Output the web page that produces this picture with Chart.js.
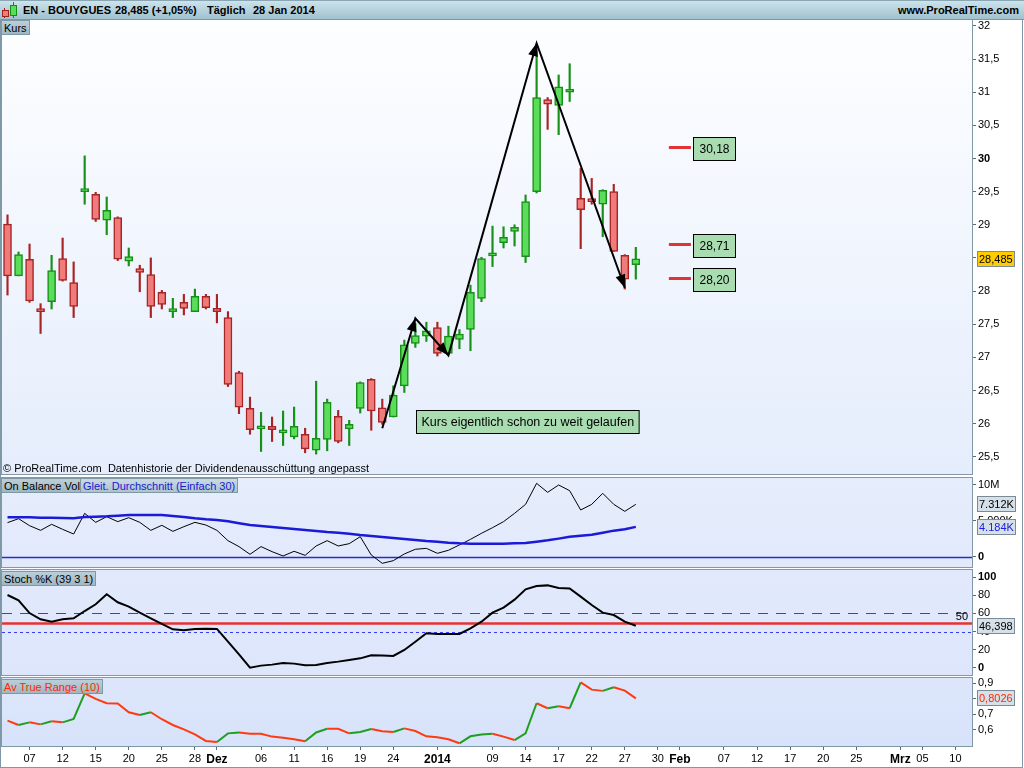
<!DOCTYPE html>
<html lang="de">
<head>
<meta charset="utf-8">
<title>EN - BOUYGUES</title>
<script src="https://cdn.jsdelivr.net/npm/chart.js@4.4.1/dist/chart.umd.min.js"></script>
<style>
  body { margin: 0; width: 1024px; height: 768px; position: relative; overflow: hidden; background: #fff;
         font-family: "Liberation Sans", Arial, sans-serif; font-size: 11px; color: #000; }
  .abs { position: absolute; }
  canvas { position: absolute; left: 0; }
  #header { left: 0; top: 0; width: 1024px; height: 20px; box-sizing: border-box; z-index: 5;
            background: linear-gradient(#cbe3ec, #a1c1cd); border-top: 1px solid #8aa6b2; border-bottom: 1px solid #7d97a4; }
  #header span { position: absolute; top: 3px; font-weight: bold; font-size: 11px; white-space: nowrap; }
  .tag { position: absolute; height: 15px; line-height: 14px; padding: 0 2px; box-sizing: border-box; z-index: 4;
         background: linear-gradient(#bccfd8, #9fb7c3); border: 1px solid #7f98a5; font-size: 11px; white-space: nowrap; }
  #frame { left: 0; top: 19px; width: 1023px; height: 749px; box-sizing: border-box; border: 1px solid #7f98a5;
           border-top: none; z-index: 6; pointer-events: none; }
</style>
</head>
<body>
<div id="header" class="abs">
  <div class="abs" style="left:4px;top:7px;width:1px;height:10px;background:#a02020"></div>
  <div class="abs" style="left:2px;top:9px;width:5px;height:5px;background:#f07b7b;border:1px solid #a02020"></div>
  <div class="abs" style="left:13px;top:1px;width:1px;height:16px;background:#139013"></div>
  <div class="abs" style="left:10px;top:4px;width:5px;height:9px;background:#5bdc5b;border:1px solid #139013"></div>
  <span style="left:23px">EN - BOUYGUES</span>
  <span style="left:115px">28,485 (+1,05%)</span>
  <span style="left:207px">Täglich</span>
  <span style="left:253px">28 Jan 2014</span>
  <span style="right:5px">www.ProRealTime.com</span>
</div>

<canvas id="price" width="1024" height="466" style="top:14px"></canvas>
<canvas id="obv" width="1024" height="101" style="top:472px"></canvas>
<canvas id="stoch" width="1024" height="117" style="top:564px"></canvas>
<canvas id="atr" width="1024" height="96" style="top:672px"></canvas>

<div class="tag" style="left:1px;top:20px">Kurs</div>
<div class="abs" style="left:3px;top:462px;font-size:11px;z-index:4">© ProRealTime.com&nbsp; Datenhistorie der Dividendenausschüttung angepasst</div>
<div class="tag" style="left:1px;top:478px">On Balance Vol</div>
<div class="tag" style="left:80px;top:478px;color:#1a1ad0;background:linear-gradient(#c9dae2,#adc3cd)">Gleit. Durchschnitt (Einfach 30)</div>
<div class="tag" style="left:1px;top:571px">Stoch %K (39 3 1)</div>
<div class="tag" style="left:1px;top:679px;color:#ff2a00">Av True Range (10)</div>
<div id="frame" class="abs"></div>

<script>
// Handelstage ab 5. Nov 2013 (Kategorien der x-Achse)
const firstDay = [2013, 10, 5];
const dayCount = 88;
const holidays = ["2013-12-25", "2013-12-26", "2014-01-01"];

const xTickText = {
  "2013-11-07": "07", "2013-11-12": "12", "2013-11-15": "15", "2013-11-20": "20", "2013-11-25": "25",
  "2013-11-28": "28", "2013-12-02": "Dez", "2013-12-06": "06", "2013-12-11": "11", "2013-12-16": "16",
  "2013-12-19": "19", "2013-12-24": "24", "2014-01-02": "2014", "2014-01-09": "09", "2014-01-14": "14",
  "2014-01-17": "17", "2014-01-22": "22", "2014-01-27": "27", "2014-01-30": "30", "2014-02-03": "Feb",
  "2014-02-07": "07", "2014-02-12": "12", "2014-02-17": "17", "2014-02-20": "20", "2014-02-25": "25",
  "2014-03-03": "Mrz", "2014-03-05": "05", "2014-03-10": "10"
};
const boldXTicks = ["Dez", "2014", "Feb", "Mrz"];

// Kurse (OHLC)
const opens = [29.01,28.23,28.48,27.73,27.84,28.49,28.13,29.50,29.46,29.07,29.11,28.45,28.34,28.25,27.98,27.69,27.83,27.69,27.92,27.74,
  27.60,26.77,26.23,25.92,25.96,25.86,25.80,25.84,25.60,25.76,26.11,25.92,26.23,26.67,26.24,26.10,26.57,27.21,27.32,27.45,
  27.06,27.27,27.42,27.89,28.53,28.73,28.90,28.52,29.50,30.89,30.80,31.00,29.40,29.37,29.31,29.50,28.54,28.40];
const highs = [29.15,28.59,28.71,27.81,28.54,28.80,28.44,30.04,29.49,29.42,29.12,28.65,28.39,28.50,28.01,27.89,27.95,28.03,27.95,27.95,
  27.69,26.79,26.40,26.17,26.10,26.19,26.25,25.93,26.64,26.37,26.20,26.05,26.63,26.68,26.37,26.57,27.26,27.51,27.53,27.53,
  27.47,27.42,28.09,28.51,28.98,28.97,29.00,29.45,31.70,30.92,31.26,31.43,29.85,29.70,29.53,29.61,28.55,28.66];
const lows = [27.94,28.23,27.83,27.36,27.73,28.15,27.60,29.31,29.05,28.85,28.46,28.38,27.99,27.60,27.73,27.60,27.64,27.69,27.73,27.52,
  26.56,26.15,25.84,25.58,25.73,25.67,25.77,25.56,25.54,25.59,25.71,25.67,26.16,25.90,25.99,26.10,26.47,27.15,27.24,27.02,
  27.05,27.13,27.10,27.84,28.37,28.65,28.68,28.43,29.48,30.44,30.36,30.86,28.64,29.31,28.82,28.60,28.03,28.18];
const closes = [28.23,28.55,27.85,27.69,28.31,28.16,27.77,29.52,29.08,29.22,28.48,28.52,28.28,27.77,27.80,27.72,27.74,27.92,27.75,27.69,
  26.59,26.25,25.91,25.96,25.91,25.88,25.96,25.62,25.78,26.32,25.73,25.99,26.62,26.19,26.02,26.43,27.19,27.33,27.40,27.06,
  27.32,27.35,27.98,28.49,28.55,28.81,28.96,29.35,30.92,30.82,31.08,31.02,29.23,29.35,29.52,28.60,28.18,28.485];

// On Balance Volume (Mio.) und gleitender Durchschnitt 30
const obv = [4.77,5.32,4.35,3.70,4.54,3.84,3.19,6.06,4.81,5.60,4.91,5.46,4.81,3.70,4.40,3.56,4.21,4.81,4.44,3.70,
  2.27,1.44,0.37,1.44,0.74,0.14,0.79,0.23,1.53,2.27,1.53,1.85,2.82,0.28,-0.88,-0.51,0.42,1.07,1.20,0.51,
  0.93,1.67,2.45,3.29,4.07,4.91,6.06,7.31,10.23,8.98,10.0,9.21,6.53,7.31,8.84,7.31,6.34,7.31];
const obvMa = [5.51,5.51,5.51,5.46,5.46,5.42,5.37,5.56,5.60,5.65,5.74,5.83,5.83,5.83,5.83,5.69,5.56,5.37,5.23,5.14,
  4.95,4.68,4.44,4.31,4.17,4.03,3.89,3.75,3.61,3.47,3.38,3.24,3.06,2.92,2.78,2.64,2.50,2.36,2.22,2.13,
  1.99,1.90,1.85,1.85,1.85,1.85,1.90,1.94,2.13,2.31,2.55,2.82,2.96,3.10,3.38,3.66,3.84,4.18];

// Stochastik %K (39 3 1)
const stochK = [80.2,74.4,60.4,53.5,50.9,53.5,54.6,62.6,70.0,81.0,72.2,67.4,60.8,54.6,48.4,42.5,41.4,42.9,43.2,42.9,
  28.9,15.0,0.4,2.6,3.7,5.5,4.8,2.9,3.3,5.5,7.0,8.8,10.6,13.9,13.6,13.2,19.8,28.9,38.1,37.4,
  37.4,37.4,43.6,50.9,60.8,66.3,75.1,86.5,90.1,90.8,87.9,87.5,78.4,69.2,60.8,58.2,50.9,46.4];

// Average True Range (10)
const atr = [0.659,0.631,0.648,0.635,0.655,0.648,0.670,0.835,0.799,0.771,0.770,0.713,0.695,0.713,0.668,0.631,0.603,0.571,0.528,0.521,
  0.577,0.583,0.575,0.574,0.556,0.549,0.539,0.526,0.583,0.607,0.606,0.577,0.586,0.605,0.590,0.586,0.609,0.592,0.558,0.552,
  0.539,0.513,0.558,0.569,0.575,0.556,0.534,0.577,0.771,0.739,0.752,0.739,0.906,0.859,0.851,0.874,0.853,0.803];

// Achsen
const priceTicks = [25.5, 26, 26.5, 27, 27.5, 28, 28.5, 29, 29.5, 30, 30.5, 31, 31.5, 32];
const obvTicks = [0, 5, 10];
const obvTickText = { 0: "0", 5: "5.000K", 10: "10M" };
const stochTicks = [0, 10, 20, 30, 40, 50, 60, 70, 80, 90, 100];
const atrTicks = [0.6, 0.7, 0.8, 0.9];

// Zeichnungen im Kurschart
const levelValues = [30.18, 28.71, 28.20];
const arrowIdx = [34, 37, 40, 48, 56];
const arrowPrices = [25.93, 27.59, 27.03, 31.74, 28.05];
const noteText = "Kurs eigentlich schon zu weit gelaufen";
const noteIdx = 37;
const notePrice = 26.2;

const days = [];
const d = new Date(Date.UTC(firstDay[0], firstDay[1], firstDay[2]));
while (days.length < dayCount) {
  const iso = d.toISOString().slice(0, 10);
  const wd = d.getUTCDay();
  if (wd !== 0 && wd !== 6 && !holidays.includes(iso)) days.push(iso);
  d.setUTCDate(d.getUTCDate() + 1);
}

const FONT = '"Liberation Sans", Arial, sans-serif';
Chart.defaults.font.family = FONT;
Chart.defaults.font.size = 11;
Chart.defaults.color = "#000";
Chart.defaults.animation = false;
Chart.defaults.plugins.legend.display = false;
Chart.defaults.plugins.tooltip.enabled = false;

function comma(v) { return String(v).replace(".", ","); }

const up = closes.map((c, i) => c >= opens[i]);
const arrowData = days.map(() => null);
arrowIdx.forEach((k, j) => { arrowData[k] = arrowPrices[j]; });

// Hintergrund, Linien, Kästchen
const decoSpecs = {
  price: { bgTop: "#fdfeff", bgBottom: "#e5edfc",
           tags: [{ value: closes[closes.length - 1], text: "28,485", bg: "#ffcc00", color: "#000" }],
           levels: levelValues, levelFrom: 60, levelTo: 62, arrows: true },
  obv: { bgTop: "#e6edfc", bgBottom: "#e1e9fb",
         lines: [{ value: 0, color: "#2a2ad0", width: 1.5, dash: [] }],
         tags: [{ value: obv[obv.length - 1], text: "7.312K", bg: "#d6e0e8", color: "#000" },
                { value: obvMa[obvMa.length - 1], text: "4.184K", bg: "#d6e0e8", color: "#2020e0" }] },
  stoch: { bgTop: "#e2e9fc", bgBottom: "#dde6fb",
           lines: [{ value: 60, color: "#3a3af2", width: 1, dash: [10, 8] },
                   { value: 40, color: "#3a3af2", width: 1, dash: [3, 3] },
                   { value: 50, color: "#e83232", width: 2.5, dash: [], label: "50" }],
           tags: [{ value: stochK[stochK.length - 1], text: "46,398", bg: "#d6e0e8", color: "#000" }] },
  atr: { bgTop: "#dde6fb", bgBottom: "#d7e3fa",
         tags: [{ value: atr[atr.length - 1], text: "0,8026", bg: "#d6e0e8", color: "#ff2a00" }] }
};

const deco = {
  id: "deco",
  beforeDraw(chart) {
    const s = decoSpecs[chart.canvas.id];
    if (!s) return;
    const a = chart.chartArea, ctx = chart.ctx;
    const g = ctx.createLinearGradient(0, a.top, 0, a.bottom);
    g.addColorStop(0, s.bgTop);
    g.addColorStop(1, s.bgBottom);
    ctx.save();
    ctx.fillStyle = g;
    ctx.fillRect(a.left, a.top, a.right - a.left, a.bottom - a.top);
    ctx.strokeStyle = "#8797a6";
    ctx.lineWidth = 1;
    ctx.strokeRect(a.left - 0.5, a.top - 0.5, a.right - a.left + 1, a.bottom - a.top + 1);
    ctx.restore();
  },
  beforeDatasetsDraw(chart) {
    const s = decoSpecs[chart.canvas.id];
    if (!s || !s.lines) return;
    const a = chart.chartArea, ctx = chart.ctx, ys = chart.scales.y;
    s.lines.forEach(l => {
      const y = Math.round(ys.getPixelForValue(l.value)) + 0.5;
      ctx.save();
      ctx.strokeStyle = l.color;
      ctx.lineWidth = l.width;
      ctx.setLineDash(l.dash);
      ctx.beginPath();
      ctx.moveTo(a.left, y);
      ctx.lineTo(a.right, y);
      ctx.stroke();
      if (l.label) {
        ctx.fillStyle = "#000";
        ctx.font = "11px " + FONT;
        ctx.textAlign = "right";
        ctx.textBaseline = "bottom";
        ctx.fillText(l.label, a.right - 4, y - 1);
      }
      ctx.restore();
    });
  },
  afterDraw(chart) {
    const s = decoSpecs[chart.canvas.id];
    if (!s) return;
    const a = chart.chartArea, ctx = chart.ctx, xs = chart.scales.x, ys = chart.scales.y;
    ctx.save();

    if (s.levels) {
      s.levels.forEach(v => {
        const y = Math.round(ys.getPixelForValue(v));
        const x0 = xs.getPixelForValue(s.levelFrom), x1 = xs.getPixelForValue(s.levelTo);
        ctx.fillStyle = "#e03434";
        ctx.fillRect(x0, y - 1, x1 - x0, 3);
        const bx = Math.round(x1) + 2, by = y - 10;
        ctx.fillStyle = "#a9ddb1";
        ctx.fillRect(bx, by, 43, 24);
        ctx.strokeStyle = "#000";
        ctx.lineWidth = 1;
        ctx.strokeRect(bx + 0.5, by + 0.5, 42, 23);
        ctx.fillStyle = "#000";
        ctx.font = "12px " + FONT;
        ctx.textAlign = "center";
        ctx.textBaseline = "middle";
        ctx.fillText(v.toFixed(2).replace(".", ","), bx + 21.5, by + 12.5);
      });
    }

    if (s.arrows) {
      const meta = chart.getDatasetMeta(0);
      const pts = arrowIdx.map(k => meta.data[k]);
      ctx.fillStyle = "#000";
      for (let j = 1; j < pts.length; j++) {
        const p0 = pts[j - 1], p1 = pts[j];
        const ang = Math.atan2(p1.y - p0.y, p1.x - p0.x);
        const L = 13, W = 5;
        const bx = p1.x - L * Math.cos(ang), by = p1.y - L * Math.sin(ang);
        ctx.beginPath();
        ctx.moveTo(p1.x, p1.y);
        ctx.lineTo(bx + W * Math.sin(ang), by - W * Math.cos(ang));
        ctx.lineTo(bx - W * Math.sin(ang), by + W * Math.cos(ang));
        ctx.closePath();
        ctx.fill();
      }
      // Notiz
      ctx.font = "12.5px " + FONT;
      const tw = ctx.measureText(noteText).width;
      const nx = Math.round(xs.getPixelForValue(noteIdx)) + 1;
      const ny = Math.round(ys.getPixelForValue(notePrice));
      ctx.fillStyle = "#a9ddb1";
      ctx.fillRect(nx, ny, tw + 11, 24);
      ctx.strokeStyle = "#000";
      ctx.lineWidth = 1;
      ctx.strokeRect(nx + 0.5, ny + 0.5, tw + 10, 23);
      ctx.fillStyle = "#000";
      ctx.textAlign = "left";
      ctx.textBaseline = "middle";
      ctx.fillText(noteText, nx + 5.5, ny + 12.5);
    }

    if (s.tags) {
      s.tags.forEach(t => {
        const y = Math.round(ys.getPixelForValue(t.value));
        ctx.font = "11px " + FONT;
        const w = Math.ceil(ctx.measureText(t.text).width) + 4;
        const x = a.right + 5;
        ctx.fillStyle = t.bg;
        ctx.fillRect(x, y - 8, w, 16);
        ctx.strokeStyle = "#7a8a96";
        ctx.lineWidth = 1;
        ctx.strokeRect(x + 0.5, y - 7.5, w - 1, 15);
        ctx.fillStyle = t.color;
        ctx.textAlign = "left";
        ctx.textBaseline = "middle";
        ctx.fillText(t.text, x + 2, y + 0.5);
      });
    }
    ctx.restore();
  }
};
Chart.register(deco);

function yAxis(min, max, ticks, fmt, boldVals) {
  return {
    position: "right", min: min, max: max, bounds: "data",
    afterBuildTicks: s => { s.ticks = ticks.map(v => ({ value: v })); },
    afterFit: s => { s.width = 52; s.paddingTop = 0; s.paddingBottom = 0; },
    ticks: {
      padding: 2,
      callback: fmt,
      font: c => ({ size: 11, weight: c.tick && boldVals.includes(c.tick.value) ? "bold" : "normal" })
    },
    grid: { drawOnChartArea: false, tickLength: 4, tickColor: "#5a6a78" },
    border: { color: "#7f98a5" }
  };
}

const xHidden = { type: "category", offset: true, display: false };
const pad = { left: 2, right: 0, top: 6, bottom: 6 };

// Kurs (Kerzen)
new Chart(document.getElementById("price"), {
  type: "bar",
  data: {
    labels: days,
    datasets: [
      { type: "line", label: "Pfeile", data: arrowData, borderColor: "#000", borderWidth: 2,
        pointRadius: 0, spanGaps: true, order: 0 },
      { label: "Körper", data: opens.map((o, i) => [o, closes[i]]),
        backgroundColor: up.map(u => u ? "#5bdc5b" : "#f07b7b"),
        borderColor: up.map(u => u ? "#169016" : "#a82424"),
        borderWidth: 1.5, borderSkipped: false, barThickness: 8, minBarLength: 3, grouped: false, order: 1 },
      { label: "Docht", data: lows.map((l, i) => [l, highs[i]]),
        backgroundColor: up.map(u => u ? "#169016" : "#a82424"),
        barThickness: 1.5, grouped: false, order: 2 }
    ]
  },
  options: {
    responsive: false, events: [], layout: { padding: pad },
    scales: {
      x: xHidden,
      y: yAxis(25.24, 32.09, priceTicks, v => comma(v), [30])
    }
  }
});

// On Balance Volume
new Chart(document.getElementById("obv"), {
  type: "line",
  data: {
    labels: days,
    datasets: [
      { label: "Gleit. Durchschnitt", data: obvMa, borderColor: "#1a1ad8", borderWidth: 2.5, pointRadius: 0 },
      { label: "OBV", data: obv, borderColor: "#000", borderWidth: 1, pointRadius: 0 }
    ]
  },
  options: {
    responsive: false, events: [], layout: { padding: pad },
    scales: {
      x: xHidden,
      y: yAxis(-1.39, 10.97, obvTicks, v => obvTickText[v], [0])
    }
  }
});

// Stochastik
new Chart(document.getElementById("stoch"), {
  type: "line",
  data: {
    labels: days,
    datasets: [{ label: "Stoch %K", data: stochK, borderColor: "#000", borderWidth: 2, pointRadius: 0 }]
  },
  options: {
    responsive: false, events: [], layout: { padding: pad },
    scales: {
      x: xHidden,
      y: yAxis(-7.7, 107.7, stochTicks, v => (v % 20 === 0 ? String(v) : ""), [0, 100])
    }
  }
});

// Average True Range + Datumsachse
new Chart(document.getElementById("atr"), {
  type: "line",
  data: {
    labels: days,
    datasets: [{
      label: "ATR", data: atr, borderWidth: 2, pointRadius: 0, borderColor: "#1f9f1f",
      segment: { borderColor: c => (c.p1.parsed.y >= c.p0.parsed.y ? "#1f9f1f" : "#ff3a10") }
    }]
  },
  options: {
    responsive: false, events: [], layout: { padding: { left: 2, right: 0, top: 6, bottom: 0 } },
    scales: {
      x: {
        type: "category", offset: true,
        afterFit: s => { s.height = 22; },
        ticks: {
          autoSkip: false, maxRotation: 0, minRotation: 0, padding: 2,
          callback: (v, i) => xTickText[days[i]] || "",
          font: c => {
            const t = c.tick ? xTickText[days[c.index]] : "";
            return boldXTicks.includes(t) ? { size: 12, weight: "bold" } : { size: 11, weight: "normal" };
          }
        },
        grid: {
          offset: false, drawOnChartArea: false, tickLength: 4,
          tickColor: c => (xTickText[days[c.index]] ? "#5a6a78" : "rgba(0,0,0,0)")
        },
        border: { color: "#7f98a5" }
      },
      y: yAxis(0.4955, 0.934, atrTicks, v => comma(v), [])
    }
  }
});
</script>
</body>
</html>
